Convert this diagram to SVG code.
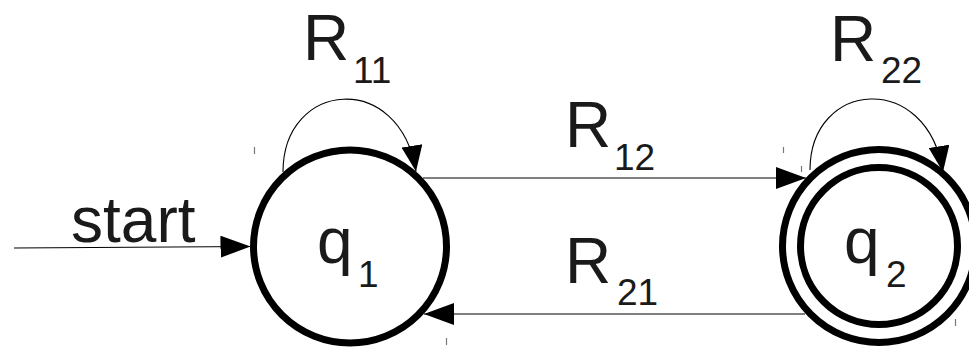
<svg xmlns="http://www.w3.org/2000/svg" width="969" height="347" viewBox="0 0 969 347">
<style>
.state{fill:#fff;stroke:#000;stroke-width:7}
.edge{fill:none;stroke:#000;stroke-width:1.1}
.lbl{font-family:"Liberation Sans",Arial,sans-serif;fill:#1a1a1a;font-size:64px}
.sub{font-size:37px}
.tick{stroke:#777;stroke-width:1.2}
</style>
<defs>
<marker id="ah" markerUnits="userSpaceOnUse" markerWidth="30" markerHeight="22" refX="30" refY="11" orient="auto" viewBox="0 0 30 22">
<path d="M0,0 L30,11 L0,22 z" fill="#000"/>
</marker>
<marker id="ahs" markerUnits="userSpaceOnUse" markerWidth="26" markerHeight="21" refX="26" refY="10.5" orient="auto" viewBox="0 0 26 21">
<path d="M0,0 L26,10.5 L0,21 z" fill="#000"/>
</marker>
</defs>
<rect width="969" height="347" fill="#fff"/>
<g id="q1">
<circle class="state" cx="350" cy="246.5" r="96.5"/>
<text class="lbl" x="317" y="263">q</text>
<text class="lbl sub" x="358" y="287">1</text>
</g>
<g id="q2">
<circle class="state" cx="879" cy="246" r="96.5"/>
<circle class="state" cx="879" cy="246" r="78.5"/>
<text class="lbl" x="844" y="263">q</text>
<text class="lbl sub" x="886" y="287">2</text>
</g>
<g id="connectors">
<path class="edge" d="M14,248 L250.5,246.5" marker-end="url(#ah)"/>
<path class="edge" d="M423,178 L806,178" marker-end="url(#ah)"/>
<path class="edge" d="M805,314 L424,314" marker-end="url(#ah)"/>
<path class="edge" d="M283,172 C283,80 400,70 416,171.5" marker-end="url(#ahs)"/>
<path class="edge" d="M810,170 C810,80 927,70 943,172" marker-end="url(#ahs)"/>
</g>
<g id="labels">
<text class="lbl" x="71" y="242">start</text>
<text class="lbl" x="303" y="60">R</text>
<text class="lbl sub" x="353" y="83">11</text>
<text class="lbl" x="565" y="147">R</text>
<text class="lbl sub" x="614" y="170">12</text>
<text class="lbl" x="565" y="283">R</text>
<text class="lbl sub" x="617" y="305">21</text>
<text class="lbl" x="830" y="61">R</text>
<text class="lbl sub" x="881" y="83">22</text>
</g>
<g id="ticks">
<line class="tick" x1="254.5" y1="147" x2="254.5" y2="154"/>
<line class="tick" x1="446.5" y1="338" x2="446.5" y2="345"/>
<line class="tick" x1="783.5" y1="147" x2="783.5" y2="153"/>
<line class="tick" x1="801.5" y1="166" x2="801.5" y2="172"/>
<line class="tick" x1="955.5" y1="319" x2="955.5" y2="326"/>
</g>
</svg>
